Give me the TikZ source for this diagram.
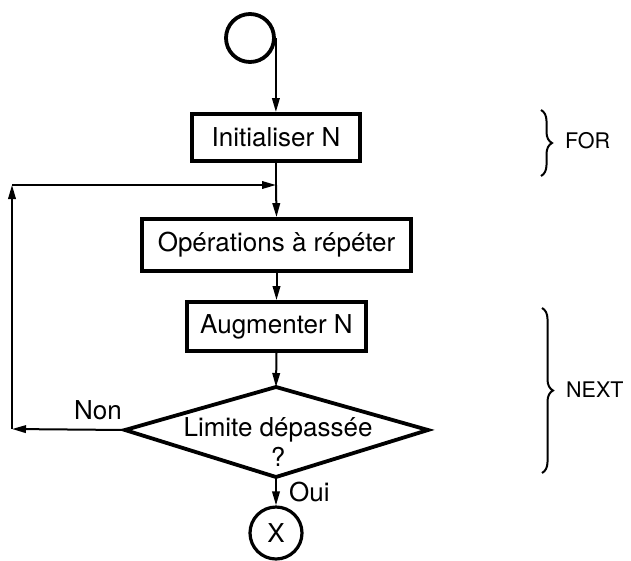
\documentclass[tikz,border=0pt]{standalone}
\usepackage{fontspec}
\setmainfont{TeX Gyre Heros}
\usetikzlibrary{arrows.meta,shapes.geometric,decorations.pathreplacing}
\begin{document}
\begin{tikzpicture}[x=1pt,y=-1pt,
  txt/.style={font=\fontsize{26}{30}\selectfont},
  sidetxt/.style={font=\fontsize{21.5}{25}\selectfont,anchor=west,inner sep=0pt},
  box/.style={draw,line width=3.8pt,inner sep=0pt,txt},
  conn/.style={line width=2pt,-{Triangle[length=14pt,width=7.5pt]}},
  plain/.style={line width=2pt},
  bracestyle/.style={line width=2pt,decorate,decoration={brace,amplitude=11pt}}]
\useasboundingbox (0,0) rectangle (631,560);
\fill[white] (0,0) rectangle (631,560);

\node[draw,circle,line width=3.8pt,minimum size=48pt,inner sep=0pt] (start) at (250,38) {};
\node[box,minimum width=168pt,minimum height=47pt] (init) at (276,137.5) {Initialiser N};
\node[box,minimum width=269pt,minimum height=52pt] (ops) at (276.5,245) {Opérations à répéter};
\node[box,minimum width=179pt,minimum height=49pt] (aug) at (276.5,326.5) {Augmenter N};

\coordinate (dtop) at (276,387);
\coordinate (dright) at (428,430);
\coordinate (dbot) at (276,477);
\coordinate (dleft) at (125,430);
\draw[line width=3.8pt] (dtop) -- (dright) -- (dbot) -- (dleft) -- cycle;
\node[txt,align=center,inner sep=0pt] (dtext) at (278,442) {Limite dépassée\\?};

\node[draw,circle,line width=3.2pt,minimum size=52pt,inner sep=0pt,txt] (end) at (276,533) {X};

\coordinate (merge) at (276,185);
\coordinate (cbl) at (12,429);
\coordinate (ctl) at (12,185);

\draw[conn] (start.east) -- (start.east |- init.north);
\draw[plain] (init.south) -- (merge);
\draw[conn] (merge) -- (ops.north);
\draw[conn] (ops.south) -- (aug.north);
\draw[conn] (aug.south) -- (dtop);
\draw[conn] (dbot) -- (end.north);
\draw[conn] (dleft) -- (cbl);
\draw[conn] (cbl) -- (ctl);
\draw[conn] (ctl) -- (merge);

\node[txt,anchor=center] (non) at (98,410) {Non};
\node[txt,anchor=west,inner sep=0pt] (oui) at (289,492) {Oui};

\draw[bracestyle] (541,110) -- (541,176);
\node[sidetxt] (for) at (565,141) {FOR};
\draw[bracestyle] (542,308) -- (542,473);
\node[sidetxt] (next) at (566,390) {NEXT};
\end{tikzpicture}
\end{document}
